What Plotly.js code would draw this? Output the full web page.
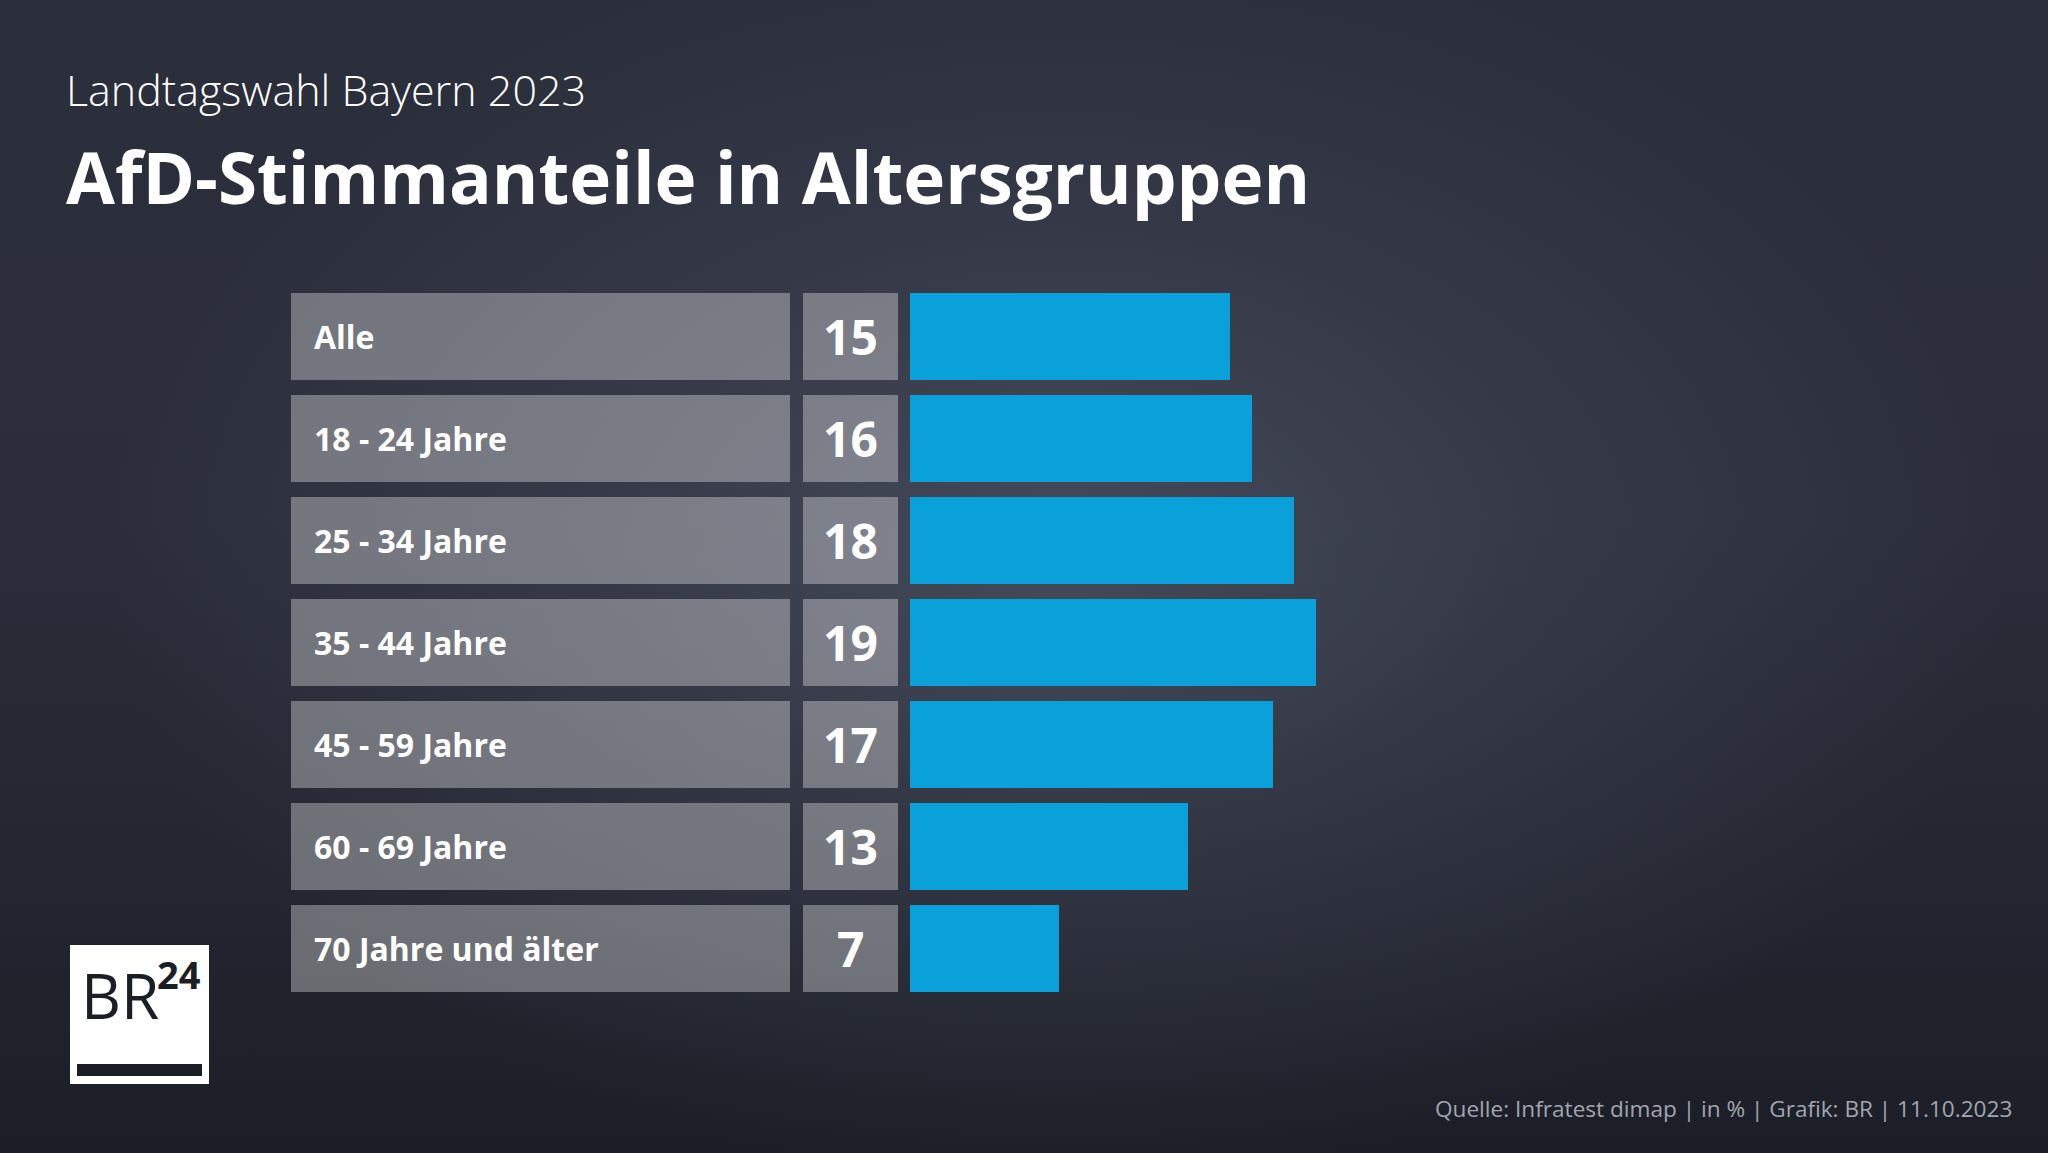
<!DOCTYPE html>
<html>
<head>
<meta charset="utf-8">
<script src="https://cdn.plot.ly/plotly-3.0.1.min.js"></script>
<style>
  html, body { margin:0; padding:0; width:2048px; height:1153px; overflow:hidden; }
  body {
    background:
      radial-gradient(ellipse 950px 620px at 1060px 560px, rgba(78,84,102,0.75) 0%, rgba(78,84,102,0.35) 45%, rgba(78,84,102,0) 100%),
      linear-gradient(to bottom, #2b2e3b 0%, #2b2e3a 45%, #22252f 80%, #1b1e26 100%);
  }
  #chart { width:2048px; height:1153px; }
</style>
</head>
<body>
<div id="chart"></div>
<script>
// ---- data ----
const categories = ["Alle", "18 - 24 Jahre", "25 - 34 Jahre", "35 - 44 Jahre", "45 - 59 Jahre", "60 - 69 Jahre", "70 Jahre und älter"];
const values = [15, 16, 18, 19, 17, 13, 7];
const subtitleText = "Landtagswahl Bayern 2023";
const titleText = "AfD-Stimmanteile in Altersgruppen";
const sourceText = "Quelle: Infratest dimap | in % | Grafik: BR | 11.10.2023";

// ---- layout constants (pixels) ----
const W = 2048, H = 1153;
const ZERO_PX = 910, PX_PER_UNIT = 21.35;
const ROW0 = 336.5, ROW_PITCH = 102, BAR_H = 87;
const FONT = "Open Sans, Noto Sans, sans-serif";

const px = x => x / W;          // paper x
const py = y => 1 - y / H;      // paper y

const idx = categories.map((c, i) => i);
const barW = BAR_H / ROW_PITCH;

const shapes = [];
const annotations = [];

idx.forEach(i => {
  // label box
  shapes.push({type:'rect', xref:'paper', yref:'y', x0:px(291), x1:px(790), y0:i - barW/2, y1:i + barW/2,
               fillcolor:'rgba(255,255,255,0.335)', line:{width:0}, layer:'below'});
  // number box
  shapes.push({type:'rect', xref:'paper', yref:'y', x0:px(803), x1:px(898), y0:i - barW/2, y1:i + barW/2,
               fillcolor:'rgba(255,255,255,0.335)', line:{width:0}, layer:'below'});
  annotations.push({xref:'paper', yref:'y', x:px(312), y:i, xanchor:'left', yanchor:'middle', showarrow:false,
                    text:categories[i], font:{family:FONT, size:32, weight:700, color:'#ffffff'}});
  annotations.push({xref:'paper', yref:'y', x:px(850.5), y:i, xanchor:'center', yanchor:'middle', showarrow:false,
                    text:String(values[i]), font:{family:FONT, size:48, weight:700, color:'#ffffff'}});
});

// titles
annotations.push({xref:'paper', yref:'paper', x:px(64), y:py(90), xanchor:'left', yanchor:'middle', showarrow:false,
                  text:subtitleText, font:{family:FONT, size:43, weight:300, color:'#ffffff'}});
annotations.push({xref:'paper', yref:'paper', x:px(64), y:py(176), xanchor:'left', yanchor:'middle', showarrow:false,
                  text:titleText, font:{family:FONT, size:71, weight:700, color:'#ffffff'}});
// source
annotations.push({xref:'paper', yref:'paper', x:px(2014), y:py(1108), xanchor:'right', yanchor:'middle', showarrow:false,
                  text:sourceText, font:{family:FONT, size:22.6, weight:400, color:'#a2a5ad'}});

// logo
shapes.push({type:'rect', xref:'paper', yref:'paper', x0:px(70), x1:px(209), y0:py(1084), y1:py(945),
             fillcolor:'#ffffff', line:{width:0}});
shapes.push({type:'rect', xref:'paper', yref:'paper', x0:px(77), x1:px(202), y0:py(1076), y1:py(1064),
             fillcolor:'#1c1e26', line:{width:0}});
annotations.push({xref:'paper', yref:'paper', x:px(79), y:py(995), xanchor:'left', yanchor:'middle', showarrow:false,
                  text:'BR', font:{family:FONT, size:62, weight:500, color:'#1c1e26'}});
annotations.push({xref:'paper', yref:'paper', x:px(203), y:py(974), xanchor:'right', yanchor:'middle', showarrow:false,
                  text:'24', font:{family:FONT, size:38, weight:700, color:'#1c1e26'}});

const trace = {
  type:'bar', orientation:'h',
  x: values, y: idx, width: barW,
  marker:{color:'#0aa0da', line:{width:0}},
  hoverinfo:'none'
};

const layout = {
  width:W, height:H,
  margin:{l:0, r:0, t:0, b:0, pad:0},
  paper_bgcolor:'rgba(0,0,0,0)', plot_bgcolor:'rgba(0,0,0,0)',
  showlegend:false,
  xaxis:{range:[-ZERO_PX/PX_PER_UNIT, (W-ZERO_PX)/PX_PER_UNIT], visible:false, fixedrange:true},
  yaxis:{range:[(H-ROW0)/ROW_PITCH, -ROW0/ROW_PITCH], visible:false, fixedrange:true},
  shapes: shapes,
  annotations: annotations,
  bargap:0
};

Plotly.newPlot('chart', [trace], layout, {displayModeBar:false, staticPlot:true});
</script>
</body>
</html>
